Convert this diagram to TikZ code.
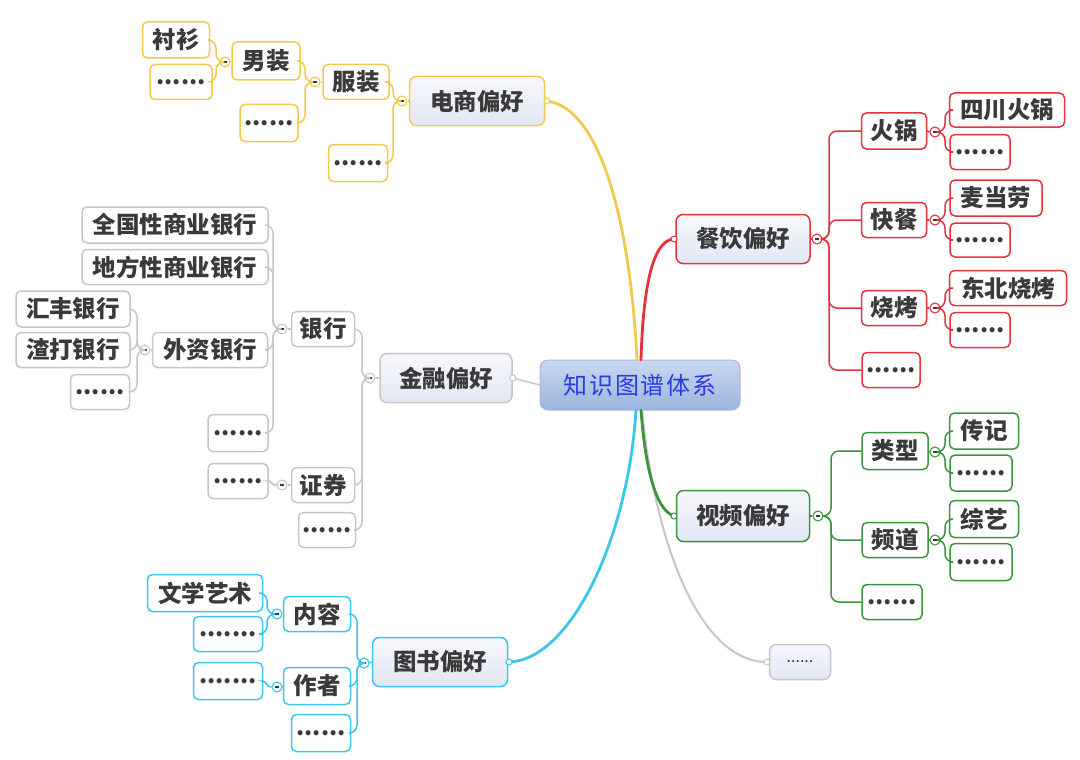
\documentclass[tikz,border=0pt]{standalone}
\usepackage{fontspec}
\setmainfont{Noto Sans CJK SC}
\definecolor{ycol}{HTML}{F2C94C}
\definecolor{rcol}{HTML}{E3343C}
\definecolor{gcol}{HTML}{3C943C}
\definecolor{ccol}{HTML}{3CC6EC}
\definecolor{kcol}{HTML}{C6C6C6}
\definecolor{txt}{HTML}{3A3A3A}
\definecolor{rootblue}{HTML}{2B3BE0}
\definecolor{rootedge}{HTML}{A8B8D8}
\definecolor{roottop}{HTML}{CAD8F0}
\definecolor{rootbot}{HTML}{9CB3DD}
\definecolor{lvtop}{HTML}{F7F8FD}
\definecolor{lvbot}{HTML}{E2E7F4}
\begin{document}
\begin{tikzpicture}[x=1pt,y=-1pt,
  box/.style={draw=#1, rounded corners=5pt, line width=1.5pt, fill=white,
    minimum height=35pt, inner sep=0pt, text=txt,
    font=\fontsize{23.5}{27}\selectfont\bfseries},
  lvlone/.style={box=#1, minimum height=49pt, top color=lvtop, bottom color=lvbot,
    rounded corners=7pt, font=\fontsize{23.5}{27}\selectfont\bfseries},
  rootbox/.style={draw=rootedge, line width=1pt, rounded corners=8pt,
    top color=roottop, bottom color=rootbot, minimum width=200pt,
    minimum height=50pt, inner sep=0pt, text=rootblue,
    font=\fontsize{24}{28}\selectfont\addfontfeature{LetterSpace=8}},
  mn/.style={circle, draw=#1, fill=white, line width=1.1pt, minimum size=10pt,
    inner sep=0pt, path picture={\draw[line width=1.3pt, draw=txt]
      ([xshift=-2.4pt]path picture bounding box.center) --
      ([xshift=2.4pt]path picture bounding box.center);}},
  conn/.style={draw=#1, line width=1.5pt, rounded corners=8pt},
  mainc/.style={draw=#1, line width=2.8pt, line cap=round},
  endc/.style={circle, draw=#1, fill=white, line width=1pt, minimum size=6pt, inner sep=0pt},
]
\useasboundingbox (0,0) rectangle (1080,760);

% ---------------- root ----------------
\node[rootbox] (root) at (640,385) {知识图谱体系};

% ---------------- level one ----------------
\node[lvlone=ycol, minimum width=135pt] (ds) at (477,101) {电商偏好};
\node[lvlone=rcol, minimum width=134pt] (cy) at (743,239) {餐饮偏好};
\node[lvlone=kcol, minimum width=132pt] (jr) at (446,378) {金融偏好};
\node[lvlone=gcol, minimum width=133pt, minimum height=51pt] (sp) at (743,516) {视频偏好};
\node[lvlone=ccol, minimum width=135pt] (ts) at (440,662) {图书偏好};
\node[lvlone=kcol, minimum width=61pt, minimum height=35pt, font=\fontsize{16}{18}\selectfont] (qt) at (800,662) {......};

% main curves
\coordinate (dsE) at (547,101);
\coordinate (cyW) at (674,239);
\coordinate (spW) at (674,516);
\coordinate (tsE) at (509,662);
\coordinate (qtW) at (767,662);
\draw[mainc=ycol] (637,360) .. controls (630,220) and (600,108) .. (dsE);
\draw[mainc=rcol] (641,360) .. controls (643,290) and (652,240) .. (cyW);
\draw[mainc=ccol] (636,410) .. controls (628,540) and (570,660) .. (tsE);
\draw[mainc=kcol, line width=2pt] (642,410) .. controls (655,545) and (700,662) .. (qtW);
\draw[mainc=gcol] (641,410) .. controls (645,465) and (655,510) .. (spW);
\draw[mainc=kcol, line width=1.5pt] (root.west) -- (jr.east);
\node[endc=ycol] at (dsE) {};
\node[endc=rcol] at (cyW) {};
\node[endc=gcol] at (spW) {};
\node[endc=ccol] at (tsE) {};
\node[endc=kcol] at (qtW) {};
\node[endc=kcol] at (jr.east) {};

% ---------------- 电商偏好 ----------------
\node[mn=ycol] (mds) at (402,101) {};
\node[box=ycol, minimum width=66pt] (fz) at (356,82) {服装};
\node[box=ycol, minimum width=59pt, minimum height=37pt] (dsd) at (358,163) {......};
\node[mn=ycol] (mfz) at (315,82) {};
\node[box=ycol, minimum width=68pt, minimum height=38pt] (nz) at (266,61) {男装};
\node[box=ycol, minimum width=58pt, minimum height=37pt] (fzd) at (269,123) {......};
\node[mn=ycol] (mnz) at (225,62) {};
\node[box=ycol, minimum width=67pt, minimum height=36pt] (cs) at (176,40) {衬衫};
\node[box=ycol, minimum width=62pt] (nzd) at (181,82) {......};
\draw[conn=ycol] (ds.west) -- (mds.east);
\draw[conn=ycol] (mds.west) -- (393,101) |- (fz.east);
\draw[conn=ycol] (mds.west) -- (393,101) |- (dsd.east);
\draw[conn=ycol] (mfz.east) -- (fz.west);
\draw[conn=ycol] (mfz.west) -- (305,82) |- (nz.east);
\draw[conn=ycol] (mfz.west) -- (305,82) |- (fzd.east);
\draw[conn=ycol] (mnz.east) -- (nz.west);
\draw[conn=ycol] (mnz.west) -- (216,62) |- (cs.east);
\draw[conn=ycol] (mnz.west) -- (216,62) |- (nzd.east);

% ---------------- 餐饮偏好 ----------------
\node[mn=rcol] (mcy) at (817,239) {};
\node[box=rcol, minimum width=65pt, minimum height=36pt] (hg) at (894,131) {火锅};
\node[box=rcol, minimum width=65pt] (kc) at (894,220) {快餐};
\node[box=rcol, minimum width=65pt] (sk) at (894,308) {烧烤};
\node[box=rcol, minimum width=58pt] (cyd) at (891,370) {......};
\draw[conn=rcol] (cy.east) -- (mcy.west);
\foreach \c in {hg,kc,sk,cyd}
  \draw[conn=rcol] (mcy.east) -- (829,239) |- (\c.west);
\node[mn=rcol] (mhg) at (935,132) {};
\node[mn=rcol] (mkc) at (935,220) {};
\node[mn=rcol] (msk) at (935,308) {};
\node[box=rcol, minimum width=115pt, minimum height=34pt] (schg) at (1007,110) {四川火锅};
\node[box=rcol, minimum width=60pt] (hgd) at (980,152) {......};
\node[box=rcol, minimum width=92pt, minimum height=36pt] (mdl) at (996,198) {麦当劳};
\node[box=rcol, minimum width=60pt, minimum height=34pt] (kcd) at (980,240) {......};
\node[box=rcol, minimum width=117pt] (dbsk) at (1008,288) {东北烧烤};
\node[box=rcol, minimum width=60pt] (skd) at (980,330) {......};
\draw[conn=rcol] (hg.east) -- (mhg.west);
\draw[conn=rcol] (kc.east) -- (mkc.west);
\draw[conn=rcol] (sk.east) -- (msk.west);
\draw[conn=rcol] (mhg.east) -- (945,132) |- (schg.west);
\draw[conn=rcol] (mhg.east) -- (945,132) |- (hgd.west);
\draw[conn=rcol] (mkc.east) -- (945,220) |- (mdl.west);
\draw[conn=rcol] (mkc.east) -- (945,220) |- (kcd.west);
\draw[conn=rcol] (msk.east) -- (945,308) |- (dbsk.west);
\draw[conn=rcol] (msk.east) -- (945,308) |- (skd.west);

% ---------------- 金融偏好 ----------------
\node[mn=kcol] (mjr) at (370,378) {};
\node[box=kcol, minimum width=63pt] (yh) at (323,329) {银行};
\node[box=kcol, minimum width=63pt] (zq) at (323,485) {证券};
\node[box=kcol, minimum width=57pt] (jrd) at (327,530) {......};
\draw[conn=kcol] (jr.west) -- (mjr.east);
\foreach \c in {yh,zq,jrd}
  \draw[conn=kcol] (mjr.west) -- (362,378) |- (\c.east);
\node[mn=kcol] (myh) at (282,329) {};
\node[box=kcol, minimum width=186pt, minimum height=36pt] (qg) at (175,225) {全国性商业银行};
\node[box=kcol, minimum width=186pt] (df) at (175,267) {地方性商业银行};
\node[box=kcol, minimum width=115pt] (wz) at (210,350) {外资银行};
\node[box=kcol, minimum width=60pt, minimum height=37pt] (yhd) at (238,433) {......};
\draw[conn=kcol] (yh.west) -- (myh.east);
\foreach \c in {qg,df,wz,yhd}
  \draw[conn=kcol] (myh.west) -- (273,329) |- (\c.east);
\node[mn=kcol] (mwz) at (145,350) {};
\node[box=kcol, minimum width=114pt, minimum height=36pt] (hf) at (73,309) {汇丰银行};
\node[box=kcol, minimum width=114pt] (zd) at (73,350) {渣打银行};
\node[box=kcol, minimum width=59pt] (wzd) at (100,392) {......};
\draw[conn=kcol] (wz.west) -- (mwz.east);
\foreach \c in {hf,zd,wzd}
  \draw[conn=kcol] (mwz.west) -- (137,350) |- (\c.east);
\node[mn=kcol] (mzq) at (282,485) {};
\node[box=kcol, minimum width=60pt] (zqd) at (238,481) {......};
\draw[conn=kcol] (zq.west) -- (mzq.east);
\draw[conn=kcol, rounded corners=3pt] (mzq.west) -- (273,485) -- (270,481) -- (zqd.east);

% ---------------- 视频偏好 ----------------
\node[mn=gcol] (msp) at (818,516) {};
\node[box=gcol, minimum width=66pt, minimum height=37pt] (lx) at (895,451) {类型};
\node[box=gcol, minimum width=66pt] (pd) at (895,540) {频道};
\node[box=gcol, minimum width=60pt] (spd) at (892,602) {......};
\draw[conn=gcol] (sp.east) -- (msp.west);
\foreach \c in {lx,pd,spd}
  \draw[conn=gcol] (msp.east) -- (831,516) |- (\c.west);
\node[mn=gcol] (mlx) at (935,452) {};
\node[mn=gcol] (mpd) at (935,540) {};
\node[box=gcol, minimum width=69pt, minimum height=36pt] (zj) at (984,431) {传记};
\node[box=gcol, minimum width=62pt, minimum height=36pt] (lxd) at (981,473) {......};
\node[box=gcol, minimum width=69pt, minimum height=37pt] (zy) at (984,519) {综艺};
\node[box=gcol, minimum width=62pt, minimum height=37pt] (pdd) at (981,562) {......};
\draw[conn=gcol] (lx.east) -- (mlx.west);
\draw[conn=gcol] (pd.east) -- (mpd.west);
\draw[conn=gcol] (mlx.east) -- (945,452) |- (zj.west);
\draw[conn=gcol] (mlx.east) -- (945,452) |- (lxd.west);
\draw[conn=gcol] (mpd.east) -- (945,540) |- (zy.west);
\draw[conn=gcol] (mpd.east) -- (945,540) |- (pdd.west);

% ---------------- 图书偏好 ----------------
\node[mn=ccol] (mts) at (364,663) {};
\node[box=ccol, minimum width=67pt] (nr) at (317,614) {内容};
\node[box=ccol, minimum width=67pt, minimum height=37pt] (zz) at (317,686) {作者};
\node[box=ccol, minimum width=59pt, minimum height=37pt] (tsd) at (321,733) {......};
\draw[conn=ccol] (ts.west) -- (mts.east);
\foreach \c in {nr,zz,tsd}
  \draw[conn=ccol] (mts.west) -- (357,663) |- (\c.east);
\node[mn=ccol] (mnr) at (277,614) {};
\node[box=ccol, minimum width=115pt, minimum height=37pt] (wx) at (205,593) {文学艺术};
\node[box=ccol, minimum width=69pt] (nrd) at (228,634) {.......};
\draw[conn=ccol] (nr.west) -- (mnr.east);
\draw[conn=ccol] (mnr.west) -- (267,614) |- (wx.east);
\draw[conn=ccol] (mnr.west) -- (267,614) |- (nrd.east);
\node[mn=ccol] (mzz) at (277,687) {};
\node[box=ccol, minimum width=69pt, minimum height=37pt] (zzd) at (228,681) {.......};
\draw[conn=ccol] (zz.west) -- (mzz.east);
\draw[conn=ccol, rounded corners=3pt] (mzz.west) -- (268,687) -- (265,681) -- (zzd.east);
\end{tikzpicture}
\end{document}
